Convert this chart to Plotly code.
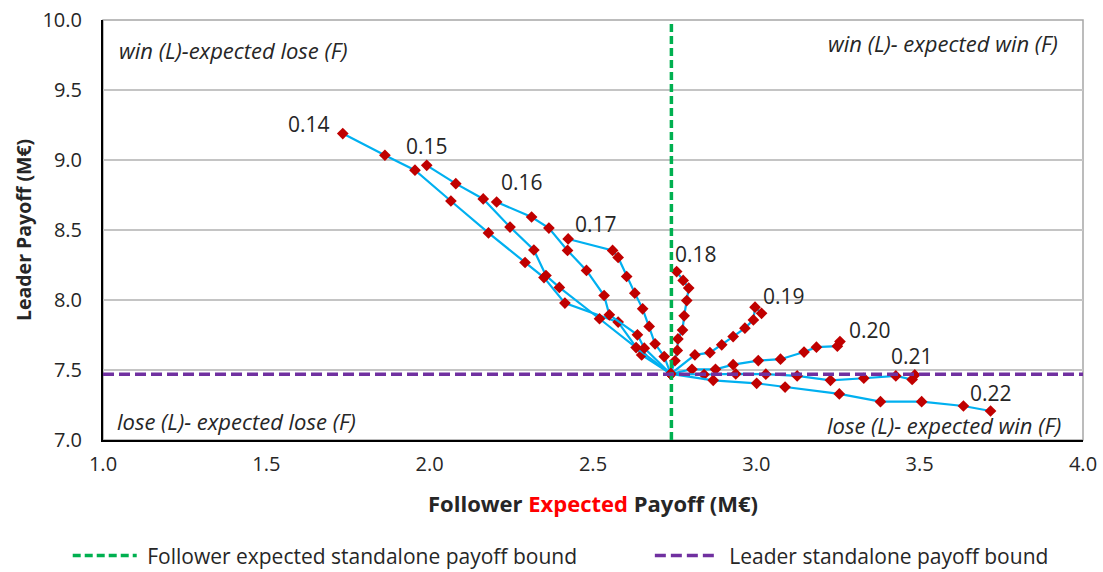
import plotly.graph_objects as go

# ---------------- data ----------------
follower_bound = 2.74
leader_bound = 7.47
x_range = [1.0, 4.0]
y_range = [7.0, 10.0]
x_ticks = [1.0, 1.5, 2.0, 2.5, 3.0, 3.5, 4.0]
y_ticks = [7.0, 7.5, 8.0, 8.5, 9.0, 9.5, 10.0]

series_labels = ["0.14", "0.15", "0.16", "0.17", "0.18", "0.19", "0.20", "0.21", "0.22"]

fx_014 = [2.738, 2.649, 2.577, 2.414, 2.350, 2.292, 2.180, 2.065, 1.955, 1.863, 1.734]
ly_014 = [7.472, 7.608, 7.842, 7.978, 8.160, 8.268, 8.479, 8.707, 8.927, 9.034, 9.189]

fx_015 = [2.738, 2.632, 2.520, 2.397, 2.356, 2.319, 2.246, 2.164, 2.080, 1.991]
ly_015 = [7.472, 7.660, 7.866, 8.090, 8.175, 8.357, 8.521, 8.722, 8.831, 8.962]

fx_016 = [2.738, 2.657, 2.636, 2.550, 2.534, 2.480, 2.422, 2.365, 2.312, 2.205]
ly_016 = [7.472, 7.656, 7.751, 7.894, 8.032, 8.211, 8.354, 8.514, 8.593, 8.700]

fx_017 = [2.738, 2.718, 2.690, 2.672, 2.652, 2.628, 2.603, 2.577, 2.560, 2.424]
ly_017 = [7.472, 7.596, 7.687, 7.811, 7.937, 8.049, 8.168, 8.304, 8.354, 8.436]

fx_018 = [2.738, 2.751, 2.758, 2.760, 2.774, 2.779, 2.787, 2.793, 2.776, 2.756]
ly_018 = [7.472, 7.566, 7.640, 7.722, 7.785, 7.887, 7.996, 8.085, 8.140, 8.203]

fx_019 = [2.738, 2.812, 2.858, 2.894, 2.929, 2.965, 2.991, 2.996, 3.016]
ly_019 = [7.472, 7.608, 7.624, 7.680, 7.739, 7.799, 7.858, 7.949, 7.905]

fx_020 = [2.738, 2.803, 2.875, 2.929, 3.006, 3.074, 3.146, 3.184, 3.248, 3.256]
ly_020 = [7.472, 7.505, 7.505, 7.538, 7.567, 7.577, 7.628, 7.663, 7.670, 7.703]

fx_021 = [2.738, 2.840, 2.937, 3.029, 3.125, 3.227, 3.329, 3.427, 3.477, 3.485]
ly_021 = [7.472, 7.468, 7.472, 7.470, 7.458, 7.426, 7.441, 7.458, 7.432, 7.465]

fx_022 = [2.738, 2.868, 3.001, 3.088, 3.254, 3.380, 3.506, 3.634, 3.717]
ly_022 = [7.472, 7.426, 7.405, 7.378, 7.329, 7.274, 7.274, 7.243, 7.207]

series_x = [fx_014, fx_015, fx_016, fx_017, fx_018, fx_019, fx_020, fx_021, fx_022]
series_y = [ly_014, ly_015, ly_016, ly_017, ly_018, ly_019, ly_020, ly_021, ly_022]

# label offsets (px) relative to each series' end point
label_dx = [-34, 0, 25, 28, 19, 22, 30, -3, 0]
label_dy = [10, 19, 20, 15, 18, 17, 12, 19, 18]

FONT = "Open Sans"
TXT = "#262626"
fig = go.Figure()

for xs, ys, lab in zip(series_x, series_y, series_labels):
    fig.add_trace(go.Scatter(
        x=xs, y=ys, mode="lines+markers", name=lab, showlegend=False,
        line=dict(color="#00b0f0", width=2.2),
        marker=dict(symbol="diamond", size=9, color="#c00000"),
    ))

fig.add_trace(go.Scatter(
    x=[follower_bound, follower_bound], y=y_range, mode="lines",
    name="\u00a0Follower expected standalone payoff bound", legend="legend",
    line=dict(color="#00b050", width=3.5, dash="8px,4px"),
))
fig.add_trace(go.Scatter(
    x=x_range, y=[leader_bound, leader_bound], mode="lines",
    name="\u00a0Leader standalone payoff bound", legend="legend2",
    line=dict(color="#7030a0", width=3.5, dash="11px,5px"),
))

annotations = []
for xs, ys, lab, dx, dy in zip(series_x, series_y, series_labels, label_dx, label_dy):
    annotations.append(dict(x=xs[-1], y=ys[-1], xref="x", yref="y", text=lab,
                            showarrow=False, xshift=dx, yshift=dy,
                            font=dict(family=FONT, size=21, color=TXT)))

quad = [
    ("win (L)-expected lose (F)", 0.014, 0.929, "left"),
    ("win (L)- expected win (F)", 0.977, 0.945, "right"),
    ("lose (L)- expected lose (F)", 0.012, 0.045, "left"),
    ("lose (L)- expected win (F)", 0.980, 0.036, "right"),
]
for t, qx, qy, anc in quad:
    annotations.append(dict(x=qx, y=qy, xref="paper", yref="paper", text="<i>" + t + "</i>",
                            showarrow=False, xanchor=anc, yanchor="middle",
                            font=dict(family=FONT, size=22, color=TXT)))

# y-axis title placed as a rotated annotation
annotations.append(dict(x=-0.0816, y=0.5, xref="paper", yref="paper",
                        text="<b>Leader Payoff (M€)</b>", textangle=-90, showarrow=False,
                        xanchor="center", yanchor="middle",
                        font=dict(family=FONT, size=19.5, color=TXT)))

leg_common = dict(orientation="h", y=-0.276, yanchor="middle", xanchor="left",
                  itemwidth=64, font=dict(family=FONT, size=21, color=TXT),
                  bgcolor="rgba(0,0,0,0)")

fig.update_layout(
    width=1103, height=572,
    margin=dict(l=103, r=20, t=20, b=132, autoexpand=False),
    paper_bgcolor="white", plot_bgcolor="white",
    font=dict(family=FONT, size=21, color=TXT),
    annotations=annotations,
    showlegend=True,
    legend=dict(x=-0.036, **leg_common),
    legend2=dict(x=0.558, **leg_common),
    shapes=[dict(type="rect", xref="x domain", yref="y domain", x0=0, x1=1, y0=0, y1=1,
                 line=dict(color="#a6a6a6", width=1.5), layer="below")],
)

fig.update_xaxes(
    range=x_range, tickvals=x_ticks, tickformat=".1f", showgrid=False, zeroline=False,
    showline=True, linecolor="black", linewidth=2, ticks="", ticklabelstandoff=5,
    tickfont=dict(family=FONT, size=20, color=TXT),
    title=dict(text="<b>Follower <span style='color:#ff0000'>Expected</span> Payoff (M€)</b>",
               font=dict(family=FONT, size=22, color=TXT), standoff=21),
)
fig.update_yaxes(
    range=y_range, tickvals=y_ticks, tickformat=".1f", showgrid=True, gridcolor="#c4c4c4",
    gridwidth=1.5, zeroline=False, showline=True, linecolor="black", linewidth=2, ticks="",
    ticklabelstandoff=15,
    tickfont=dict(family=FONT, size=20, color=TXT),
)

fig.write_html("out.html", post_script="document.body.style.margin='0px';",
               config={"displayModeBar": False})
